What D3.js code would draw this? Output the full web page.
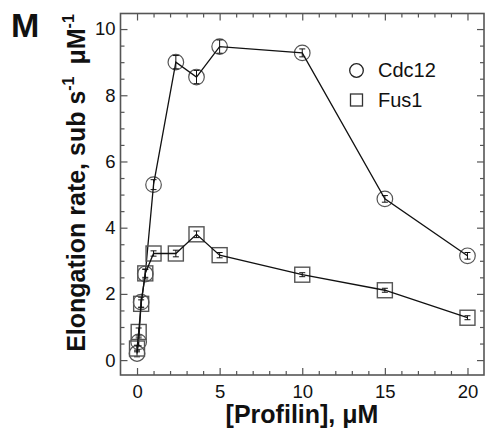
<!DOCTYPE html>
<html>
<head>
<meta charset="utf-8">
<script src="https://cdn.jsdelivr.net/npm/d3@7/dist/d3.min.js"></script>
<style>
  html, body { margin: 0; padding: 0; background: #fff; }
  svg { display: block; font-family: "Liberation Sans", Arial, sans-serif; }
</style>
</head>
<body>
<svg id="chart" width="485" height="442"></svg>
<script>
// ---- data ----
const profilin = [0, 0.1, 0.25, 0.5, 1, 2.35, 3.6, 5, 10, 15, 20];
const cdc12 = [0.2, 0.55, 1.75, 2.6, 5.3, 9.0, 8.55, 9.47, 9.28, 4.87, 3.15];
const cdc12Err = [0.1, 0.12, 0.15, 0.15, 0.15, 0.2, 0.2, 0.2, 0.12, 0.1, 0.1];
const fus1 = [0.35, 0.85, 1.7, 2.62, 3.22, 3.22, 3.8, 3.17, 2.58, 2.11, 1.28];
const fus1Err = [0.1, 0.12, 0.12, 0.12, 0.08, 0.1, 0.1, 0.08, 0.06, 0.06, 0.06];
const xTicks = [0, 5, 10, 15, 20];
const yTicks = [0, 2, 4, 6, 8, 10];
const seriesNames = ["Cdc12", "Fus1"];

const svg = d3.select("#chart");
const x = d3.scaleLinear().domain([-1, 21]).range([120.5, 484]);
const y = d3.scaleLinear().domain([-0.45, 10.47]).range([375, 13.5]);
const frameColor = "#555";

const xMinor = d3.range(-1, 22, 1).filter(v => !xTicks.includes(v) && v > -1 && v < 21);
const yMinor = d3.range(0, 10.5, 0.5).filter(v => !yTicks.includes(v));

function styleAxis(g) {
  g.select(".domain").remove();
  g.selectAll(".tick line").attr("stroke", frameColor).attr("stroke-width", 1.2);
  g.selectAll(".tick text").attr("fill", "#111").attr("font-size", 18.5)
    .attr("font-family", "Liberation Sans, Arial, sans-serif");
}

// bottom axis with labels
svg.append("g").attr("transform", `translate(0,${y.range()[0]})`)
  .call(d3.axisBottom(x).tickValues(xTicks).tickSize(-7).tickPadding(5).tickFormat(d3.format("d")))
  .call(styleAxis).selectAll(".tick text").attr("dy", "0.95em");
svg.append("g").attr("transform", `translate(0,${y.range()[0]})`)
  .call(d3.axisBottom(x).tickValues(xMinor).tickSize(-4).tickFormat(""))
  .call(styleAxis);
// top
svg.append("g").attr("transform", `translate(0,${y.range()[1]})`)
  .call(d3.axisTop(x).tickValues(xTicks).tickSize(-7).tickFormat(""))
  .call(styleAxis);
svg.append("g").attr("transform", `translate(0,${y.range()[1]})`)
  .call(d3.axisTop(x).tickValues(xMinor).tickSize(-4).tickFormat(""))
  .call(styleAxis);
// left
svg.append("g").attr("transform", `translate(${x.range()[0]},0)`)
  .call(d3.axisLeft(y).tickValues(yTicks).tickSize(-7).tickPadding(5).tickFormat(d3.format("d")))
  .call(styleAxis);
svg.append("g").attr("transform", `translate(${x.range()[0]},0)`)
  .call(d3.axisLeft(y).tickValues(yMinor).tickSize(-4).tickFormat(""))
  .call(styleAxis);
// right
svg.append("g").attr("transform", `translate(${x.range()[1]},0)`)
  .call(d3.axisRight(y).tickValues(yTicks).tickSize(-7).tickFormat(""))
  .call(styleAxis);
svg.append("g").attr("transform", `translate(${x.range()[1]},0)`)
  .call(d3.axisRight(y).tickValues(yMinor).tickSize(-4).tickFormat(""))
  .call(styleAxis);

// frame
svg.append("rect")
  .attr("x", x.range()[0]).attr("y", y.range()[1])
  .attr("width", x.range()[1] - x.range()[0]).attr("height", y.range()[0] - y.range()[1])
  .attr("fill", "none").attr("stroke", frameColor).attr("stroke-width", 1.6);

const line = d3.line().x(d => x(d[0])).y(d => y(d[1]));
const markerColor = "#555";

function drawSeries(vals, errs, shape) {
  const pts = profilin.map((p, i) => [p, vals[i], errs[i]]);
  const g = svg.append("g");
  if (shape === "circle") {
    g.selectAll("circle").data(pts).join("circle")
      .attr("cx", d => x(d[0])).attr("cy", d => y(d[1])).attr("r", 7.8)
      .attr("fill", "none").attr("stroke", markerColor).attr("stroke-width", 1.2);
  } else {
    g.selectAll("rect").data(pts).join("rect")
      .attr("x", d => x(d[0]) - 7.5).attr("y", d => y(d[1]) - 7.5)
      .attr("width", 15).attr("height", 15)
      .attr("fill", "none").attr("stroke", markerColor).attr("stroke-width", 1.4);
  }
  g.append("path").datum(pts).attr("d", line)
    .attr("fill", "none").attr("stroke", "#111").attr("stroke-width", 1.3);
  const eb = g.selectAll(".eb").data(pts).join("g").attr("class", "eb");
  eb.append("line").attr("x1", d => x(d[0])).attr("x2", d => x(d[0]))
    .attr("y1", d => y(d[1] - d[2])).attr("y2", d => y(d[1] + d[2]))
    .attr("stroke", "#111").attr("stroke-width", 1);
  [1, -1].forEach(s => {
    eb.append("line").attr("x1", d => x(d[0]) - 3).attr("x2", d => x(d[0]) + 3)
      .attr("y1", d => y(d[1] + s * d[2])).attr("y2", d => y(d[1] + s * d[2]))
      .attr("stroke", "#111").attr("stroke-width", 1);
  });
}
drawSeries(cdc12, cdc12Err, "circle");
drawSeries(fus1, fus1Err, "square");

// legend
const lg = svg.append("g");
lg.append("circle").attr("cx", 356.5).attr("cy", 70.5).attr("r", 6.8)
  .attr("fill", "none").attr("stroke", "#222").attr("stroke-width", 1.3);
lg.append("rect").attr("x", 350.5).attr("y", 94).attr("width", 12).attr("height", 12)
  .attr("fill", "none").attr("stroke", "#333").attr("stroke-width", 1.3);
lg.append("text").attr("x", 378).attr("y", 77).attr("font-size", 20).attr("fill", "#111").text(seriesNames[0]);
lg.append("text").attr("x", 378).attr("y", 107).attr("font-size", 20).attr("fill", "#111").text(seriesNames[1]);

// axis titles
svg.append("text").attr("x", 302).attr("y", 423).attr("text-anchor", "middle")
  .attr("font-size", 25).attr("font-weight", "bold").attr("fill", "#111")
  .text("[Profilin], μM");

const yt = svg.append("text").attr("transform", "translate(85,183) rotate(-90)")
  .attr("text-anchor", "middle").attr("font-size", 25).attr("font-weight", "bold").attr("fill", "#111");
yt.append("tspan").text("Elongation rate, sub s");
yt.append("tspan").attr("dy", -11).attr("font-size", 16).text("-1");
yt.append("tspan").attr("dy", 11).text("\u2009 μM");
yt.append("tspan").attr("dy", -11).attr("font-size", 16).text("-1");

// panel label
svg.append("text").attr("x", 11).attr("y", 37).attr("font-size", 34).attr("font-weight", "bold")
  .attr("fill", "#111").text("M");
</script>
</body>
</html>
